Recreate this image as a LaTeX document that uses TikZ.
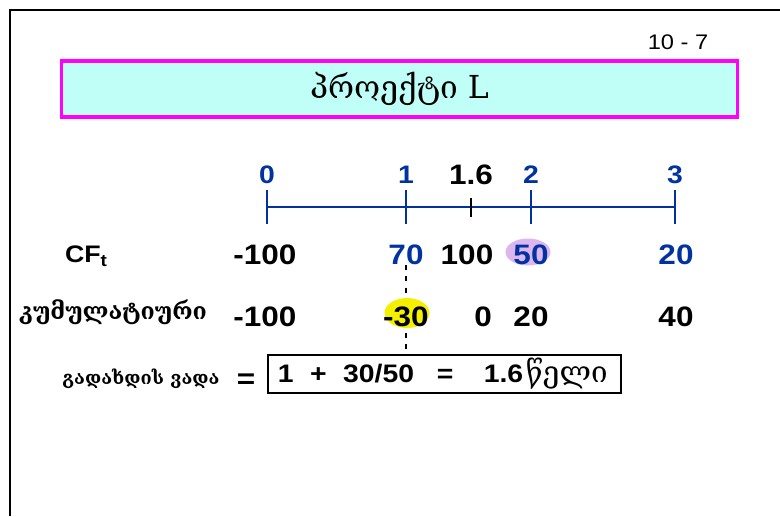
\documentclass[tikz,border=0pt]{standalone}
\usepackage{fontspec}
\setmainfont{Liberation Sans}[FakeStretch=1.12]
\newfontfamily\geofont{DejaVu Serif}
\usetikzlibrary{positioning}
\definecolor{tlblue}{RGB}{0,51,160}
\definecolor{titlefill}{RGB}{192,255,248}
\definecolor{titleline}{RGB}{255,0,255}
\definecolor{lilac}{RGB}{221,182,240}
\definecolor{hiyellow}{RGB}{245,240,0}
\tikzset{
  tick/.style={
    tlblue,
    line width=1.4pt
  },
  tlabel/.style={
    text = tlblue,
    font = \fontsize{18}{18}\selectfont\bfseries,
    inner sep=0pt
  },
  num/.style={
    font = \fontsize{20}{20}\selectfont\bfseries,
    inner sep=0pt
  },
  numblue/.style={
    num,
    text = tlblue
  },
  geolabel/.style={
    font = \geofont\bfseries\fontsize{16.5}{16.5}\selectfont,
    inner sep=0pt
  },
  dashline/.style={
    line width=1.4pt,
    dash pattern=on 3.5pt off 4.5pt
  }
}

\begin{document}
\begin{tikzpicture}[x=0.025cm,y=-0.025cm]
    \useasboundingbox (0,0) rectangle (780,516);
    % frame
    \draw[line width=1.5pt] (10,516) -- (10,10) -- (780,10);
    \node[font=\fontsize{15}{15}\selectfont] (pg) at (678,42) {10 - 7};

    \node[draw=titleline, fill=titlefill, line width=2.2pt,
          minimum width=16.875cm, minimum height=1.4cm,
          font=\geofont\fontsize{22.5}{22.5}\selectfont] (title) at (399.5,89) {პროექტი L};

    % time line
    \coordinate (t0) at (267,207);
    \coordinate (t1) at (406,207);
    \coordinate (t2) at (531,207);
    \coordinate (t3) at (675,207);
    \coordinate (th) at (471,207);
    \draw[tick] (t0) -- (t3);
    \foreach \t in {t0,t1,t2,t3}
        \draw[tick] (\t) ++(0,-17) -- ++(0,34);
    \draw[line width=1.4pt] (th) ++(0,-9) -- ++(0,19);

    \node[tlabel] (l0) at (267,175) {0};
    \node[tlabel] (l1) at (406,175) {1};
    \node[num] (lh) at (471,175) {1.6};
    \node[tlabel] (l2) at (531,175) {2};
    \node[tlabel] (l3) at (675,175) {3};

    % cash flows
    \node[font=\fontsize{17}{17}\selectfont\bfseries, inner sep=0pt] (cf) at (86,256)
        {CF\raisebox{-0.35ex}{\fontsize{12}{12}\selectfont t}};
    \fill[lilac] (528,252) ellipse [x radius=22.5, y radius=13.5];
    \node[num] (c0) at (265,255) {-100};
    \node[numblue] (c1) at (406,255) {70};
    \node[num] (ch) at (467,255) {100};
    \node[numblue] (c2) at (531,255) {50};
    \node[numblue] (c3) at (676,255) {20};

    % cumulative
    \node[geolabel] (kum) at (113,312) {კუმულატიური};
    \node[num] (k0) at (265,317) {-100};
    \node[num] (kh) at (483,317) {0};
    \node[num] (k2) at (531,317) {20};
    \node[num] (k3) at (676,317) {40};

    % payback
    \node[geolabel, font=\geofont\bfseries\fontsize{13}{13}\selectfont] (pay) at (141,379) {გადახდის ვადა};
    \node[num] (eq) at (246,381) {=};
    \node[draw, line width=1.2pt, inner xsep=0.25cm, inner ysep=0pt,
          text width=8.325cm, minimum height=0.95cm, align=left,
          font=\fontsize{18}{18}\selectfont\bfseries] (pb) at (444.5,374)
        {\mbox{1\hspace{0.65em}+\hspace{0.65em}30/50\hspace{0.9em}=\hspace{1.2em}1.6\hspace{0.1em}{\geofont\mdseries\fontsize{21}{21}\selectfont წელი}}};

    \draw[dashline] (c1.south) -- (c1.south |- pb.north);
    \fill[hiyellow] (407,313) ellipse [x radius=22.5, y radius=15];
    \node[num] (k1) at (406,317) {-30};
\end{tikzpicture}
\end{document}
